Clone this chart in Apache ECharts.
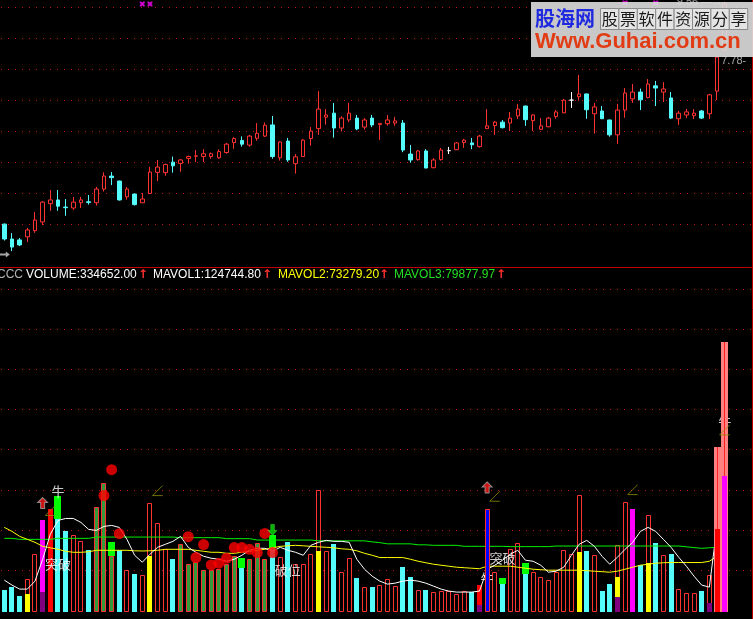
<!DOCTYPE html>
<html><head><meta charset="utf-8">
<script src="https://cdn.jsdelivr.net/npm/echarts/dist/echarts.min.js"></script>
<style>html,body{margin:0;padding:0;background:#000;}#c{width:753px;height:619px;}</style>
</head><body><div id="c"></div>
<script>
// ---------------- DATA ----------------
const categories = Array.from({length: 98}, (_, i) => 'D' + (i + 1));

// candles: [open, close, low, high]
const candles = [
[2.39,1.91,1.86,2.41],[1.91,1.65,1.52,2.10],[1.88,1.72,1.68,1.94],[1.98,2.20,1.81,2.27],[2.18,2.52,2.11,2.78],
[2.46,3.10,2.36,3.14],[3.05,3.17,2.82,3.49],[3.17,2.97,2.82,3.49],[2.94,2.92,2.66,3.20],[2.91,3.10,2.85,3.27],
[3.08,3.17,2.91,3.27],[3.11,3.09,3.02,3.33],[3.08,3.52,2.99,3.59],[3.52,3.94,3.44,4.06],[3.94,3.89,3.65,4.07],
[3.78,3.17,3.15,3.79],[3.27,3.52,3.18,3.59],[3.36,3.02,2.99,3.37],[3.08,3.20,3.07,3.39],[3.38,4.07,3.37,4.24],
[4.06,4.23,3.78,4.46],[4.05,4.31,3.95,4.34],[4.39,4.27,4.05,4.57],[4.35,4.46,4.08,4.49],[4.51,4.57,4.34,4.60],
[4.58,4.59,4.39,4.78],[4.57,4.66,4.39,4.81],[4.57,4.66,4.50,4.70],[4.53,4.73,4.50,4.80],[4.70,4.97,4.66,5.01],
[5.02,5.15,4.82,5.20],[5.09,4.97,4.89,5.22],[4.94,5.23,4.89,5.27],[5.16,5.32,5.08,5.65],[5.23,5.58,5.20,5.67],
[5.59,4.57,4.50,5.88],[4.53,5.04,4.44,5.06],[5.07,4.46,4.40,5.17],[4.34,4.56,4.02,4.65],[4.57,5.10,4.56,5.13],
[5.15,5.39,4.92,5.52],[5.47,6.10,5.27,6.68],[5.84,5.91,5.60,6.10],[5.97,5.49,5.18,6.30],[5.49,5.81,5.38,5.87],
[5.75,5.97,5.68,6.30],[5.81,5.46,5.42,5.91],[5.52,5.75,5.44,5.81],[5.81,5.59,5.52,5.91],[5.60,5.64,5.10,5.65],
[5.63,5.75,5.57,5.91],[5.65,5.72,5.56,5.85],[5.65,4.78,4.71,5.75],[4.65,4.46,4.37,4.94],[4.47,4.75,4.44,4.78],
[4.75,4.20,4.19,4.81],[4.21,4.46,4.19,4.52],[4.47,4.78,4.44,4.85],[4.76,4.76,4.65,4.88],[4.79,5.01,4.78,5.04],
[5.02,5.10,4.85,5.14],[5.01,4.95,4.81,5.17],[4.89,5.23,4.86,5.27],[5.47,5.56,5.46,6.10],[5.57,5.68,5.27,5.72],
[5.68,5.50,5.48,5.75],[5.65,5.81,5.39,6.01],[5.88,6.10,5.78,6.27],[6.20,5.76,5.56,6.21],[5.73,5.91,5.39,5.93],
[5.45,5.56,5.43,5.81],[5.53,5.81,5.52,5.85],[5.86,6.01,5.79,6.07],[5.98,6.39,5.97,6.43],[6.39,6.39,6.14,6.65],
[6.50,6.59,6.37,7.20],[6.59,6.08,5.79,6.60],[5.95,6.17,5.31,6.30],[6.04,5.79,5.78,6.20],[5.75,5.27,5.21,5.76],
[5.27,6.07,4.98,6.27],[6.07,6.62,5.82,6.78],[6.43,6.65,6.30,6.91],[6.65,6.40,6.07,6.76],[6.47,6.91,6.45,7.07],
[6.85,6.78,6.20,7.01],[6.65,6.75,6.33,6.97],[6.46,5.81,5.78,6.65],[5.79,5.97,5.59,6.04],[5.91,6.01,5.81,6.10],
[5.89,5.97,5.78,6.10],[6.04,5.81,5.78,6.07],[5.95,6.56,5.78,6.59],[6.68,7.78,6.39,7.85],[8.01,9.50,7.98,9.56]
];
const priceGrid = [2.378, 3.378, 4.378, 5.378, 6.378, 7.378, 8.378, 9.378];
const volGrid = [49840, 99690, 149530, 200620, 250470, 300310, 350160, 400000];
const topMarks = [[18, 9.49], [19, 9.49], [81, 9.52], [85, 9.52]];
const leftArrow = [[0, 1.41]];
const priceLabels = [{value: [94, 9.56], name: '9.56 —→'}];
const closeLabel = [{value: [94, 7.65], name: '7.78-'}];

const volume = [
25420,29510,18350,39060,70060,112590,125860,113460,98950,93620,
86180,75390,128710,158470,67950,75390,50220,45260,44020,134540,
108500,76260,63860,82460,57660,60140,50220,50220,51460,57660,
67950,52700,63860,84570,63860,78370,67210,85310,57660,57660,
70930,150660,74150,82460,47370,65970,40300,28770,29510,31620,
39060,30750,54310,41910,25420,25420,22940,24180,24180,20460,
24180,22570,31990,127100,47370,32490,77130,83700,45260,47370,
41170,37820,47370,75020,70930,144460,73780,68820,24180,32860,
81220,135780,125860,56420,118420,83700,68820,70060,26660,21700,
21700,24180,44020,203610,334652
];
// h hollow red, c cyan, g green/red, r red, m magenta, b blue, s salmon
const volType = [
'c','c','c','h','h','m','r','c','c','h',
'h','c','g','g','g','c','h','c','h','h',
'h','h','c','g','g','g','g','g','g','g',
'g','c','g','g','g','c','h','c','h','h',
'h','h','h','c','h','h','c','h','c','h',
'h','h','c','c','h','c','h','h','h','h',
'h','c','r','b','h','c','h','h','c','h',
'h','h','h','h','h','h','c','h','c','c',
'h','h','m','c','h','c','h','c','h','h',
'h','c','h','s','s'
];
const yellowOverlay = [[3,20830],[19,67950],[41,74150],[75,72540],[80,41540],[84,59770]];
const purpleOverlay = [[5,23310],[62,7190],[80,16740],[92,9300]];
const greenBlocks = [[7,113460,143220],[14,67950,85310],[31,52700,65970],[35,78370,93620],[65,32490,40300],[68,45260,58900]];
const lowerRed = [[93,101060]];
const lowerMagenta = [[94,167150]];

const mavol1 = [
37820,31620,26660,26660,36580,63860,94860,112220,114700,114700,
109740,101060,99820,104780,106020,103540,88660,68820,60140,70060,
78740,82460,86180,92380,78740,72540,67580,65100,63860,61380,
63860,68820,75020,77500,77500,73780,78740,75020,72540,68820,
81220,84940,87420,86180,86180,84940,63860,51460,42780,36580,
32860,34100,36580,37820,36580,34100,30380,26660,24180,22940,
22940,22940,24180,51460,56420,62620,70060,75020,62620,61380,
56420,47740,48980,53940,68820,82460,87420,79980,67580,57660,
66340,76260,84940,98580,103540,98580,88660,78740,66340,55180,
42780,31620,29140,104780,124744.80
];
const mavol2 = [
103540,98580,92380,88660,84940,79980,78120,76260,73780,72540,
72540,73160,75020,75020,75020,75020,75020,74400,74150,74400,
75020,76260,76260,76260,76260,75020,73780,72540,72540,71300,
71300,72540,73780,75020,76260,78120,79980,80600,81220,80600,
79980,79360,78740,78120,76880,76260,74400,71300,68820,65970,
65970,65970,65970,63860,61380,59520,57660,56420,55180,53940,
53320,52700,52080,55180,55180,55180,55180,53940,52700,51460,
50840,50220,50220,50220,50220,50220,49600,48980,48360,47740,
48980,51460,53940,56420,57660,58900,59520,59770,59770,59770,
59770,59770,61380,67580,73279.20
];
const mavol3 = [
89900,89900,88660,88660,88660,88660,88660,89900,89900,89900,
89900,89900,91510,91510,91510,91510,91510,91510,91510,91510,
91510,91510,91510,90770,90770,90770,90770,90770,90770,89530,
89530,89530,89530,87790,87790,87790,87790,87790,87790,87790,
87790,86800,86800,86800,86800,86800,86800,86800,85560,84570,
83080,83080,83080,83080,81840,81840,81220,81220,81220,81220,
79980,79980,79980,79980,79980,79980,79610,79610,79610,79610,
79610,79610,80350,80350,80350,80350,80350,80350,80350,80350,
80350,80350,80350,80350,80350,80350,80350,80350,80350,79360,
78370,77500,78120,78740,79877.97
];
const redDots = [[13,143220],[14,175460],[15,95730],[24,92010],[25,65970],[26,82090],[27,56790],[28,58900],[29,65100],[30,78370],[31,78370],[32,76260],[33,72170],[34,96100],[35,72170]];
const textMarks = [
  {value: [7, 149420], name: '牛'},
  {value: [7, 57660], name: '突破'},
  {value: [37, 50220], name: '破位'},
  {value: [65, 65720], name: '突破'},
  {value: [63, 40920], name: '牛'},
  {value: [94, 236220], name: '牛'}
];
const upArrows = [[5,133920],[63,153390]];
const downArrows = [[35,100440]];
const oliveMarks = [[6,124620],[20,149420],[64,142350],[82,150660],[94,225060]];

const legendItems = [
  {text: 'CCC', color: '#b4b4b4'},
  {text: 'VOLUME:334652.00', color: '#ffffff'},
  {text: 'MAVOL1:124744.80', color: '#ffffff'},
  {text: 'MAVOL2:73279.20', color: '#ffff00'},
  {text: 'MAVOL3:79877.97', color: '#22e022'}
];
const wmCells = '股票软件资源分享';

// ---------------- RENDER ----------------
const chart = echarts.init(document.getElementById('c'), null, {renderer: 'canvas'});
const RED = '#ff3232', CYAN = '#54fcfc', GRIDRED = '#c41414';

function findIn(arr, i) { for (const e of arr) if (e[0] === i) return e; return null; }

function gridRender(params, api) {
  const cs = params.coordSys;
  const y = Math.round(api.coord([0, api.value(1)])[1] - 0.5) + 0.5;
  return {type: 'line', silent: true,
    shape: {x1: Math.round(cs.x), y1: y, x2: Math.round(cs.x + cs.width), y2: y},
    style: {stroke: GRIDRED, lineWidth: 1, lineDash: [1, 6]}};
}
// dotted gridline built from 1px dots (no dash pattern)
function dotGridRender(params, api) {
  const cs = params.coordSys;
  const y = Math.round(api.coord([0, api.value(1)])[1] - 0.5);
  const kids = [];
  for (let x = Math.round(cs.x); x < cs.x + cs.width; x += 7)
    kids.push({type: 'rect', shape: {x: x, y: y, width: 1, height: 1}, style: {fill: GRIDRED}});
  return {type: 'group', silent: true, children: kids};
}
function volMain(params, api) {
  const i = api.value(0), t = volType[i];
  const p = api.coord([i, api.value(1)]), b = api.coord([i, 0]);
  const cx = Math.floor(p[0]) + 0.5, yt = Math.round(p[1]), yb = Math.round(b[1]) + 1;
  if (t === 'h' || t === 'g')
    return {type: 'rect', shape: {x: cx - 2, y: yt + 0.5, width: 4, height: yb - yt - 1},
            style: {fill: t === 'g' ? '#33993a' : '#000', stroke: RED, lineWidth: 1}};
  const fills = {c: CYAN, r: '#ff0000', m: '#ff00ff'};
  if (fills[t])
    return {type: 'rect', shape: {x: cx - 2.5, y: yt, width: 5, height: yb - yt}, style: {fill: fills[t]}};
  return null;
}
function solidOverlay(color) {
  return function (params, api) {
    const i = api.value(0);
    const p = api.coord([i, api.value(1)]), b = api.coord([i, 0]);
    const cx = Math.floor(p[0]) + 0.5, yt = Math.round(p[1]), yb = Math.round(b[1]) + 1;
    return {type: 'rect', shape: {x: cx - 2.5, y: yt, width: 5, height: yb - yt}, style: {fill: color}};
  };
}
function blockRender(params, api) {
  const i = api.value(0);
  const lo = api.coord([i, api.value(1)]), hi = api.coord([i, api.value(2)]);
  const cx = Math.floor(lo[0]) + 0.5;
  return {type: 'rect', shape: {x: cx - 3.5, y: Math.round(hi[1]), width: 7, height: Math.round(lo[1]) - Math.round(hi[1])},
          style: {fill: '#00ff00'}};
}
function volSpecial(params, api) {
  const i = api.value(0), t = volType[i];
  const p = api.coord([i, api.value(1)]), b = api.coord([i, 0]);
  const cx = Math.floor(p[0]) + 0.5, yt = Math.round(p[1]), yb = Math.round(b[1]) + 1;
  if (t === 'b')
    return {type: 'rect', shape: {x: cx - 2, y: yt + 0.5, width: 4, height: yb - yt - 1},
            style: {fill: '#0000ff', stroke: RED, lineWidth: 1}};
  if (t === 's') {
    let low = findIn(lowerRed, i), col = '#ff0000';
    if (!low) { low = findIn(lowerMagenta, i); col = '#ff00ff'; }
    const ly = Math.round(api.coord([i, low[1]])[1]);
    return {type: 'group', children: [
      {type: 'rect', shape: {x: cx - 3.5, y: yt, width: 7, height: yb - yt}, style: {fill: '#ff8080'}},
      {type: 'line', shape: {x1: cx, y1: yt, x2: cx, y2: ly}, style: {stroke: '#ff2020', lineWidth: 1}},
      {type: 'rect', shape: {x: cx - 2.5, y: ly, width: 5, height: yb - ly}, style: {fill: col}}
    ]};
  }
  return null;
}

const graphics = [];
// legend row
const legendX = [-3, 26, 153, 278, 394];
const arrowX = [null, 138, 262, 379, 496];
legendItems.forEach((it, k) => {
  graphics.push({type: 'text', x: legendX[k], y: 275, z: 50,
    style: {text: it.text, fill: it.color, font: '12px "Liberation Sans", Arial', verticalAlign: 'middle', textVerticalAlign: 'middle'}});
  if (arrowX[k] !== null)
    graphics.push({type: 'text', x: arrowX[k], y: 275, z: 50,
      style: {text: '↑', fill: '#ff3030', font: 'bold 12px "DejaVu Sans"', verticalAlign: 'middle', textVerticalAlign: 'middle'}});
});
// right frame
graphics.push({type: 'line', shape: {x1: 752.5, y1: 0, x2: 752.5, y2: 619}, style: {stroke: '#c00000', lineWidth: 1}, z: 60});
// watermark
graphics.push({type: 'rect', shape: {x: 531, y: 2, width: 222, height: 55}, style: {fill: 'rgba(222,222,222,0.9)'}, z: 100});
graphics.push({type: 'text', x: 535, y: 18, z: 101,
  style: {text: '股海网', fill: '#1f2ae0', font: 'bold 20px "Noto Sans CJK SC"', verticalAlign: 'middle', textVerticalAlign: 'middle'}});
for (let k = 0; k < wmCells.length; k++) {
  graphics.push({type: 'rect', shape: {x: 600.5 + k * 18.4, y: 8.5, width: 18.4, height: 21}, z: 101,
    style: {fill: '#e4e4e4', stroke: '#8a8a8a', lineWidth: 1}});
  graphics.push({type: 'text', x: 600.5 + k * 18.4 + 9.2, y: 19, z: 102,
    style: {text: wmCells[k], fill: '#1a1a1a', font: '16px "Noto Sans CJK SC"', align: 'center', textAlign: 'center', verticalAlign: 'middle', textVerticalAlign: 'middle'}});
}
graphics.push({type: 'text', x: 535, y: 42, z: 101,
  style: {text: 'Www.Guhai.com.cn', fill: '#e23c14', font: 'bold 22px "Liberation Sans", Arial', verticalAlign: 'middle', textVerticalAlign: 'middle'}});

const option = {
  animation: false,
  backgroundColor: '#000',
  grid: [
    {left: 0.5, right: 1.5, top: 0, bottom: 352},
    {left: 0.5, right: 1.5, top: 289.5, bottom: 8.5}
  ],
  xAxis: [
    {type: 'category', gridIndex: 0, data: categories, boundaryGap: true,
     axisLine: {show: true, onZero: false, lineStyle: {color: '#c00000', width: 1}},
     axisTick: {show: false}, axisLabel: {show: false}, splitLine: {show: false}},
    {type: 'category', gridIndex: 1, data: categories, boundaryGap: true,
     axisLine: {show: false}, axisTick: {show: false}, axisLabel: {show: false}, splitLine: {show: false}}
  ],
  yAxis: [
    {type: 'value', gridIndex: 0, min: 1.007, max: 9.62,
     axisLine: {show: false}, axisTick: {show: false}, axisLabel: {show: false}, splitLine: {show: false}},
    {type: 'value', gridIndex: 1, min: 0, max: 400000,
     axisLine: {show: false}, axisTick: {show: false}, axisLabel: {show: false}, splitLine: {show: false}}
  ],
  graphic: graphics,
  series: [
    {type: 'custom', xAxisIndex: 0, yAxisIndex: 0, z: 1, silent: true, clip: false, renderItem: gridRender,
     encode: {x: 0, y: 1}, data: priceGrid.map(v => [0, v])},
    {type: 'custom', xAxisIndex: 1, yAxisIndex: 1, z: 1, silent: true, clip: false, renderItem: dotGridRender,
     encode: {x: 0, y: 1}, data: volGrid.map(v => [0, v])},
    {type: 'candlestick', xAxisIndex: 0, yAxisIndex: 0, data: candles, barWidth: 4, z: 3,
     itemStyle: {color: '#000', color0: CYAN, borderColor: RED, borderColor0: CYAN, borderColorDoji: '#ffffff', borderWidth: 1}},
    {type: 'scatter', xAxisIndex: 0, yAxisIndex: 0, data: topMarks, z: 4, silent: true,
     symbol: 'path://M0 0 L3 0 L5 2 L7 0 L10 0 L10 3 L8 5 L10 7 L10 10 L7 10 L5 8 L3 10 L0 10 L0 7 L2 5 L0 3 Z',
     symbolSize: 5, itemStyle: {color: '#ff00ff'}},
    {type: 'scatter', xAxisIndex: 0, yAxisIndex: 0, data: leftArrow, z: 4, silent: true,
     symbol: 'path://M0 2 L7 2 L7 0 L11 3 L7 6 L7 4 L0 4 Z', symbolSize: [11, 6], itemStyle: {color: '#d0d0d0'}},
    {type: 'scatter', xAxisIndex: 0, yAxisIndex: 0, data: priceLabels, z: 4, silent: true,
     symbolSize: 1, itemStyle: {color: 'transparent'},
     label: {show: true, position: 'left', distance: 1, formatter: p => p.name, color: '#c8c8c8', fontSize: 11, fontFamily: 'Liberation Sans'}},
    {type: 'scatter', xAxisIndex: 0, yAxisIndex: 0, data: closeLabel, z: 4, silent: true,
     symbolSize: 1, itemStyle: {color: 'transparent'},
     label: {show: true, position: 'right', distance: -4, formatter: p => p.name, color: '#d0d0d0', fontSize: 11, fontFamily: 'Liberation Sans'}},

    {type: 'custom', xAxisIndex: 1, yAxisIndex: 1, z: 2, silent: true, renderItem: volMain,
     encode: {x: 0, y: 1}, data: volume.map((v, i) => [i, v])},
    {type: 'custom', xAxisIndex: 1, yAxisIndex: 1, z: 2, silent: true, renderItem: solidOverlay('#ffff00'),
     encode: {x: 0, y: 1}, data: yellowOverlay},
    {type: 'custom', xAxisIndex: 1, yAxisIndex: 1, z: 2, silent: true, renderItem: solidOverlay('#800080'),
     encode: {x: 0, y: 1}, data: purpleOverlay},
    {type: 'custom', xAxisIndex: 1, yAxisIndex: 1, z: 2, silent: true, renderItem: blockRender,
     encode: {x: 0, y: [1, 2]}, data: greenBlocks},
    {type: 'line', xAxisIndex: 1, yAxisIndex: 1, data: mavol3, z: 3, silent: true, showSymbol: false, symbol: 'none',
     lineStyle: {color: '#00f000', width: 1}},
    {type: 'line', xAxisIndex: 1, yAxisIndex: 1, data: mavol2, z: 3, silent: true, showSymbol: false, symbol: 'none',
     lineStyle: {color: '#ffff00', width: 1}},
    {type: 'line', xAxisIndex: 1, yAxisIndex: 1, data: mavol1, z: 3, silent: true, showSymbol: false, symbol: 'none',
     lineStyle: {color: '#ffffff', width: 1}},
    {type: 'scatter', xAxisIndex: 1, yAxisIndex: 1, data: textMarks, z: 4, silent: true,
     symbolSize: 1, itemStyle: {color: 'transparent'},
     label: {show: true, position: 'inside', formatter: p => p.name, color: '#ffffff', fontSize: 13, fontFamily: 'Noto Sans CJK SC'}},
    {type: 'custom', xAxisIndex: 1, yAxisIndex: 1, z: 5, silent: true, renderItem: volSpecial,
     encode: {x: 0, y: 1}, data: volume.map((v, i) => [i, v])},
    {type: 'scatter', xAxisIndex: 1, yAxisIndex: 1, data: redDots, z: 6, silent: true,
     symbol: 'circle', symbolSize: 11, itemStyle: {color: '#ff0000'}},
    {type: 'scatter', xAxisIndex: 1, yAxisIndex: 1, data: oliveMarks, z: 7, silent: true,
     symbol: 'path://M0 10 L10 0 M0 10 L10 10', symbolSize: [10, 10],
     itemStyle: {color: 'transparent', borderColor: '#8c8c00', borderWidth: 1}},
    {type: 'scatter', xAxisIndex: 1, yAxisIndex: 1, data: upArrows, z: 7, silent: true,
     symbol: 'path://M5 0 L10 5 L7 5 L7 11 L3 11 L3 5 L0 5 Z', symbolSize: [10, 11],
     itemStyle: {color: '#ff1a1a', borderColor: '#a8a8a8', borderWidth: 1}},
    {type: 'scatter', xAxisIndex: 1, yAxisIndex: 1, data: downArrows, z: 7, silent: true,
     symbol: 'path://M3 0 L7 0 L7 6 L10 6 L5 11 L0 6 L3 6 Z', symbolSize: [9, 11],
     itemStyle: {color: '#00e000', borderColor: '#60ff60', borderWidth: 0.5}}
  ]
};
chart.setOption(option);
</script></body></html>
